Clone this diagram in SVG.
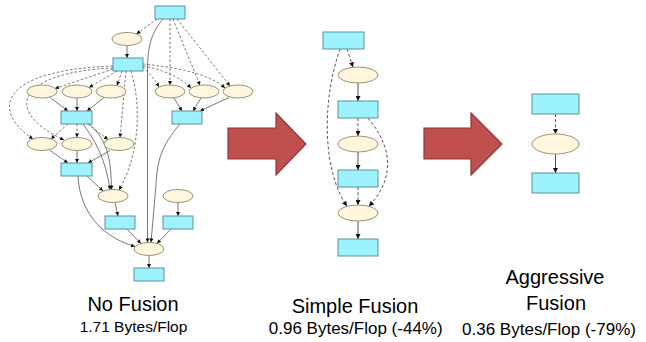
<svg xmlns="http://www.w3.org/2000/svg" width="646" height="342" viewBox="0 0 646 342">
<style>
.r{fill:#9CF3FF;stroke:#5F8F96;stroke-width:1}
.e{fill:#FFF6DD;stroke:#8F8768;stroke-width:0.9}
.s{fill:none;stroke:#555;stroke-width:0.8}
.d{fill:none;stroke:#555;stroke-width:0.8;stroke-dasharray:2.5,2}
.s2{fill:none;stroke:#555;stroke-width:1}
.d2{fill:none;stroke:#555;stroke-width:1;stroke-dasharray:3,2.2}
.sm{marker-end:url(#a1)}
.lg{marker-end:url(#a2)}
.big{fill:#C0504D;stroke:#8C3836;stroke-width:1.2}
.t1{font-family:"Liberation Sans",Arial,sans-serif;font-size:20px;fill:#000;text-anchor:middle}
.t2{font-family:"Liberation Sans",Arial,sans-serif;fill:#000;text-anchor:middle}
</style>
<defs>
<marker id="a1" viewBox="0 0 10 10" refX="10" refY="5" markerWidth="4.5" markerHeight="4" orient="auto" markerUnits="userSpaceOnUse"><path d="M0,0 L10,5 L0,10 z" fill="#111"/></marker>
<marker id="a2" viewBox="0 0 10 10" refX="10" refY="5" markerWidth="5.5" markerHeight="5" orient="auto" markerUnits="userSpaceOnUse"><path d="M0,0 L10,5 L0,10 z" fill="#111"/></marker>
</defs>

<g id="connectors">
<!-- left graph dashed -->
<path class="d sm" d="M157,19 L136.5,34"/>
<path class="d sm" d="M170,19 L170,85"/>
<path class="d sm" d="M173,19 L200,85.3"/>
<path class="d sm" d="M177,19 L230,86"/>
<path class="d sm" d="M143,67 Q152,75 159,87"/>
<path class="d sm" d="M143,66 Q175,72 191,88"/>
<path class="d sm" d="M143,64 Q205,70 225,88"/>
<path class="d sm" d="M122,71 L117,85.5"/>
<path class="d sm" d="M117,71 L89,87.5"/>
<path class="d sm" d="M113,69 L55,88.5"/>
<path class="d sm" d="M113,66 C0,70 -10,110 33,139"/>
<path class="d sm" d="M113,68 C20,72 0,110 64,140"/>
<path class="d sm" d="M126,71 L120,137.5"/>
<path class="d sm" d="M131,71 C140,100 142,150 119,190"/>
<path class="d sm" d="M68,124 L51,139"/>
<path class="d sm" d="M77,124 L77,137.5"/>
<path class="d sm" d="M88,124 L108,139.5"/>
<!-- left graph solid -->
<path class="s sm" d="M127,45.5 L127,58"/>
<path class="s sm" d="M50,97.5 L68,111"/>
<path class="s sm" d="M77,98 L77,111"/>
<path class="s sm" d="M104,97.5 L87,111"/>
<path class="s sm" d="M174,98 L182,111"/>
<path class="s sm" d="M201,98 L193,111"/>
<path class="s sm" d="M229,97.5 L200,111"/>
<path class="s sm" d="M83,124 C95,140 106,160 110,189.7"/>
<path class="s sm" d="M89,124 C108,140 111,160 111.5,189.6"/>
<path class="s sm" d="M50,150.5 L68,163"/>
<path class="s sm" d="M77,150.5 L77,163"/>
<path class="s sm" d="M110,150.5 L88,163"/>
<path class="s sm" d="M87,176 L103,191"/>
<path class="s sm" d="M78,176 C80,215 105,238 135,246.5"/>
<path class="s sm" d="M115,202.5 L118,216"/>
<path class="s sm" d="M178,202.5 L178,216"/>
<path class="s sm" d="M127,229 L141,243.5"/>
<path class="s sm" d="M171,229 L157,243.5"/>
<path class="s sm" d="M149,255.5 L149,268"/>
<path class="s sm" d="M163,19 C152,32 147.5,45 147.5,70 L147.5,242.5"/>
<path class="s sm" d="M180,124 C162,145 157,160 156,185 L151,242.5"/>
<!-- middle graph -->
<path class="d2 lg" d="M347,49 L353,67.3"/>
<path class="d2 lg" d="M340,49 C322,100 322,170 347,206.3"/>
<path class="s2 lg" d="M358,83 L358,101"/>
<path class="d2 lg" d="M358,118 L358,136"/>
<path class="d2 lg" d="M368,118 C395,150 393,180 369,206.3"/>
<path class="s2 lg" d="M358,152 L358,170"/>
<path class="d2 lg" d="M358,187 L358,205"/>
<path class="s2 lg" d="M358,221 L358,239"/>
<!-- right graph -->
<path class="d2 lg" d="M555.5,114 L555.5,134"/>
<path class="s2 lg" d="M555.5,154 L555.5,173"/>
</g>

<g id="nofusion">
<g id="L_R0"><rect class="r" x="155" y="6" width="30" height="13"/></g>
<g id="L_E1"><ellipse class="e" cx="127" cy="39" rx="15" ry="6.5"/></g>
<g id="L_R1"><rect class="r" x="113" y="58" width="30" height="13"/></g>
<g id="L_A1"><ellipse class="e" cx="42" cy="91.5" rx="15" ry="6.5"/></g>
<g id="L_A2"><ellipse class="e" cx="77" cy="91.5" rx="15" ry="6.5"/></g>
<g id="L_A3"><ellipse class="e" cx="111" cy="91.5" rx="15" ry="6.5"/></g>
<g id="L_A4"><ellipse class="e" cx="170" cy="91.5" rx="15" ry="6.5"/></g>
<g id="L_A5"><ellipse class="e" cx="204" cy="91.5" rx="15" ry="6.5"/></g>
<g id="L_A6"><ellipse class="e" cx="238" cy="91.5" rx="15" ry="6.5"/></g>
<g id="L_R2"><rect class="r" x="61" y="111" width="31" height="13"/></g>
<g id="L_R3"><rect class="r" x="172" y="111" width="30" height="13"/></g>
<g id="L_B1"><ellipse class="e" cx="42" cy="144" rx="15" ry="6.5"/></g>
<g id="L_B2"><ellipse class="e" cx="77" cy="144" rx="15" ry="6.5"/></g>
<g id="L_B3"><ellipse class="e" cx="119" cy="144" rx="15" ry="6.5"/></g>
<g id="L_R4"><rect class="r" x="61" y="163" width="31" height="13"/></g>
<g id="L_C1"><ellipse class="e" cx="113" cy="196" rx="15" ry="6.5"/></g>
<g id="L_C2"><ellipse class="e" cx="178" cy="196" rx="15" ry="6.5"/></g>
<g id="L_R5"><rect class="r" x="105" y="216" width="30" height="13"/></g>
<g id="L_R6"><rect class="r" x="163" y="216" width="30" height="13"/></g>
<g id="L_D"><ellipse class="e" cx="149" cy="249" rx="15" ry="6.5"/></g>
<g id="L_R7"><rect class="r" x="134" y="268" width="30" height="13"/></g>
</g>

<g id="simplefusion">
<g id="M_R0"><rect class="r" x="323" y="32" width="41" height="17"/></g>
<g id="M_E1"><ellipse class="e" cx="358" cy="75" rx="20" ry="8"/></g>
<g id="M_R1"><rect class="r" x="338" y="101" width="40" height="17"/></g>
<g id="M_E2"><ellipse class="e" cx="358" cy="144" rx="20" ry="8"/></g>
<g id="M_R2"><rect class="r" x="338" y="170" width="40" height="17"/></g>
<g id="M_E3"><ellipse class="e" cx="358" cy="213" rx="20" ry="8"/></g>
<g id="M_R3"><rect class="r" x="338" y="239" width="40" height="17"/></g>
</g>

<g id="aggressive">
<g id="G_R0"><rect class="r" x="532" y="94" width="47" height="20"/></g>
<g id="G_E1"><ellipse class="e" cx="555.5" cy="144" rx="23.5" ry="10"/></g>
<g id="G_R1"><rect class="r" x="532" y="173" width="47" height="20"/></g>
</g>

<g id="arrow1"><polygon class="big" points="228,128 276,128 276,113 306,144 276,175 276,159 228,159"/></g>
<g id="arrow2"><polygon class="big" points="424,128 471,128 471,113 502,144 471,175 471,159 424,159"/></g>

<g id="labels">
<text class="t1" x="133" y="311">No Fusion</text>
<text class="t2" x="133.5" y="331.5" font-size="15.5">1.71 Bytes/Flop</text>
<text class="t1" x="355" y="312.5">Simple Fusion</text>
<text class="t2" x="355.7" y="333.5" font-size="17">0.96 Bytes/Flop (-44%)</text>
<text class="t1" x="555" y="284">Aggressive</text>
<text class="t1" x="556" y="309.5">Fusion</text>
<text class="t2" x="549" y="335" font-size="17">0.36 Bytes/Flop (-79%)</text>
</g>
</svg>
